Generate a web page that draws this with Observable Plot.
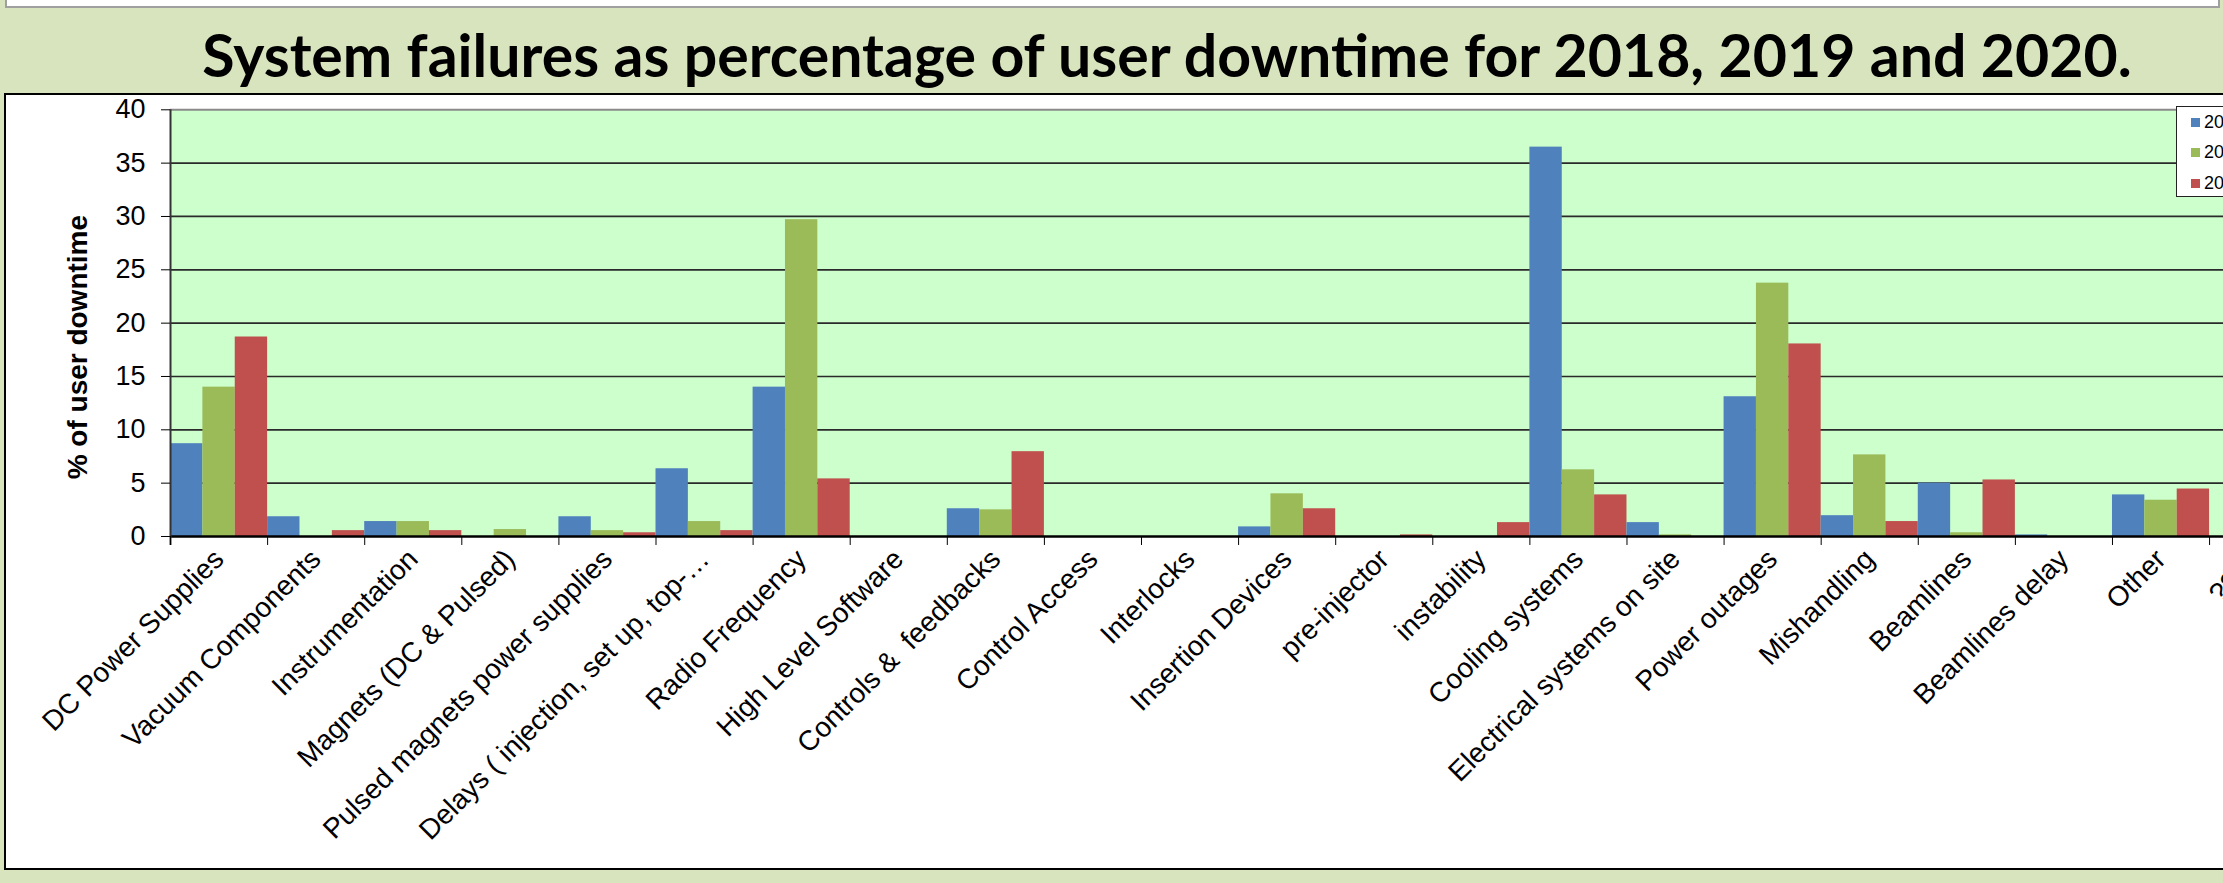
<!DOCTYPE html>
<html>
<head>
<meta charset="utf-8">
<script src="https://cdn.jsdelivr.net/npm/d3@7"></script>
<script src="https://cdn.jsdelivr.net/npm/@observablehq/plot@0.6"></script>
<style>
  html, body { margin: 0; padding: 0; overflow: hidden; background: #d7e4bd; }
  #page { position: relative; width: 2223px; height: 883px; overflow: hidden; background: #d7e4bd;
          font-family: "Liberation Sans", Arial, sans-serif; }
  #strip { position: absolute; left: 5px; top: -4px; width: 2211px; height: 8px; background: #fff; border: 2px solid #a0a0a0; }
  #title { position: absolute; left: 0; top: 25px; width: 2334px; text-align: center; font-family: Lato, sans-serif;
           font-weight: 700; font-size: 59px; line-height: 59px; color: #000; white-space: nowrap; }
  #box { position: absolute; left: 4px; top: 93px; width: 2400px; height: 773px; background: #fff; border: 2px solid #000; }
  #chart { position: absolute; left: 0; top: 92px; }
  #legend { position: absolute; left: 2176px; top: 106px; width: 120px; height: 89px; background: #fff; border: 1.5px solid #222; }
  .item { position: absolute; left: 14px; height: 20px; display: flex; align-items: center; font-size: 18px; color: #000;
          font-family: "Liberation Sans", Arial, sans-serif; }
  .sw { width: 9px; height: 9px; margin-right: 4px; }
</style>
</head>
<body>
<div id="page">
  <div id="strip"></div>
  <div id="title"></div>
  <div id="box"></div>
  <div id="chart"></div>
  <div id="legend"></div>
</div>
<script>
const titleText = "System failures as percentage of user downtime for 2018, 2019 and 2020.";
const yLabel = "% of user downtime";

const categories = [
  "DC Power Supplies", "Vacuum Components", "Instrumentation", "Magnets (DC & Pulsed)",
  "Pulsed magnets power supplies", "Delays ( injection, set up, top-…", "Radio Frequency",
  "High Level Software", "Controls &  feedbacks", "Control Access", "Interlocks",
  "Insertion Devices", "pre-injector", "instability", "Cooling systems",
  "Electrical systems on site", "Power outages", "Mishandling", "Beamlines",
  "Beamlines delay", "Other", "????"
];
const years = ["2018", "2019", "2020"];
const colors = ["#4f81bd", "#9bbb59", "#c0504d"];

const values2018 = [8.7, 1.85, 1.4, 0, 1.85, 6.35, 14.0, 0, 2.6, 0, 0, 0.9, 0, 0, 36.5, 1.3, 13.1, 1.95, 5.0, 0.15, 3.9, 0];
const values2019 = [14.0, 0, 1.4, 0.65, 0.55, 1.4, 29.7, 0, 2.5, 0, 0, 4.0, 0, 0, 6.25, 0.15, 23.75, 7.65, 0.35, 0, 3.4, null];
const values2020 = [18.7, 0.55, 0.55, 0, 0.35, 0.55, 5.4, 0, 7.95, 0, 0, 2.6, 0.15, 1.3, 3.9, 0, 18.05, 1.4, 5.3, 0, 4.45, null];

const yTicks = [0, 5, 10, 15, 20, 25, 30, 35, 40];

const series = [values2018, values2019, values2020];
const rows = categories.flatMap((c, i) =>
  years.map((yr, j) => ({key: c + "|" + yr, category: c, year: yr, value: series[j][i]}))
);
const keysFirst = categories.map(c => c + "|" + years[0]);
const keysMid = categories.map(c => c + "|" + years[1]);

const catW = 97.1, left = 170;
const bw = catW / years.length;
const width = left + catW * categories.length;

document.getElementById("title").textContent = titleText;

const plot = Plot.plot({
  width, height: 777,
  marginLeft: left, marginRight: 0, marginTop: 17.3, marginBottom: 333,
  style: "background: transparent; max-width: none; overflow: visible; color: #000; font-family: 'Liberation Sans', Arial, sans-serif;",
  x: {type: "band", domain: rows.map(d => d.key), padding: 0, round: false, axis: null, label: null},
  y: {domain: [0, 40], axis: null, label: null},
  color: {domain: years, range: colors},
  marks: [
    Plot.frame({fill: "#ccffcc", stroke: null}),
    Plot.gridY(yTicks.filter(t => t > 0 && t < 40), {stroke: "#2a2a2a", strokeOpacity: 1, strokeWidth: 1.7}),
    Plot.gridY([40], {stroke: "#8a8a8a", strokeOpacity: 1, strokeWidth: 2}),
    Plot.barY(rows, {x: "key", y: "value", fill: "year"}),
    Plot.ruleY([0], {stroke: "#000", strokeWidth: 2.5}),
    Plot.ruleX([keysFirst[0]], {dx: -bw / 2, insetBottom: -9, stroke: "#333", strokeWidth: 2}),
    Plot.axisY({ticks: yTicks, tickSize: 9, tickPadding: 16, fontSize: 27, label: null}),
    Plot.axisX({ticks: keysFirst, tickSize: 9, tickFormat: () => "", dx: -bw / 2, label: null}),
    Plot.axisX({ticks: keysMid, tickSize: 0, tickPadding: 18, tickRotate: -45,
                tickFormat: k => k.split("|")[0], fontSize: 28, label: null}),
    Plot.text([yLabel], {text: d => d, frameAnchor: "left", textAnchor: "middle", rotate: -90,
                         dx: -92, dy: 24, fontSize: 28, fontWeight: "bold"})
  ]
});
document.getElementById("chart").appendChild(plot);

const legend = document.getElementById("legend");
years.forEach((yr, j) => {
  const item = document.createElement("div");
  item.className = "item";
  item.style.top = (5 + j * 30.5) + "px";
  const sw = document.createElement("span");
  sw.className = "sw";
  sw.style.background = colors[j];
  const t = document.createElement("span");
  t.textContent = yr;
  item.appendChild(sw);
  item.appendChild(t);
  legend.appendChild(item);
});
</script>
</body>
</html>
